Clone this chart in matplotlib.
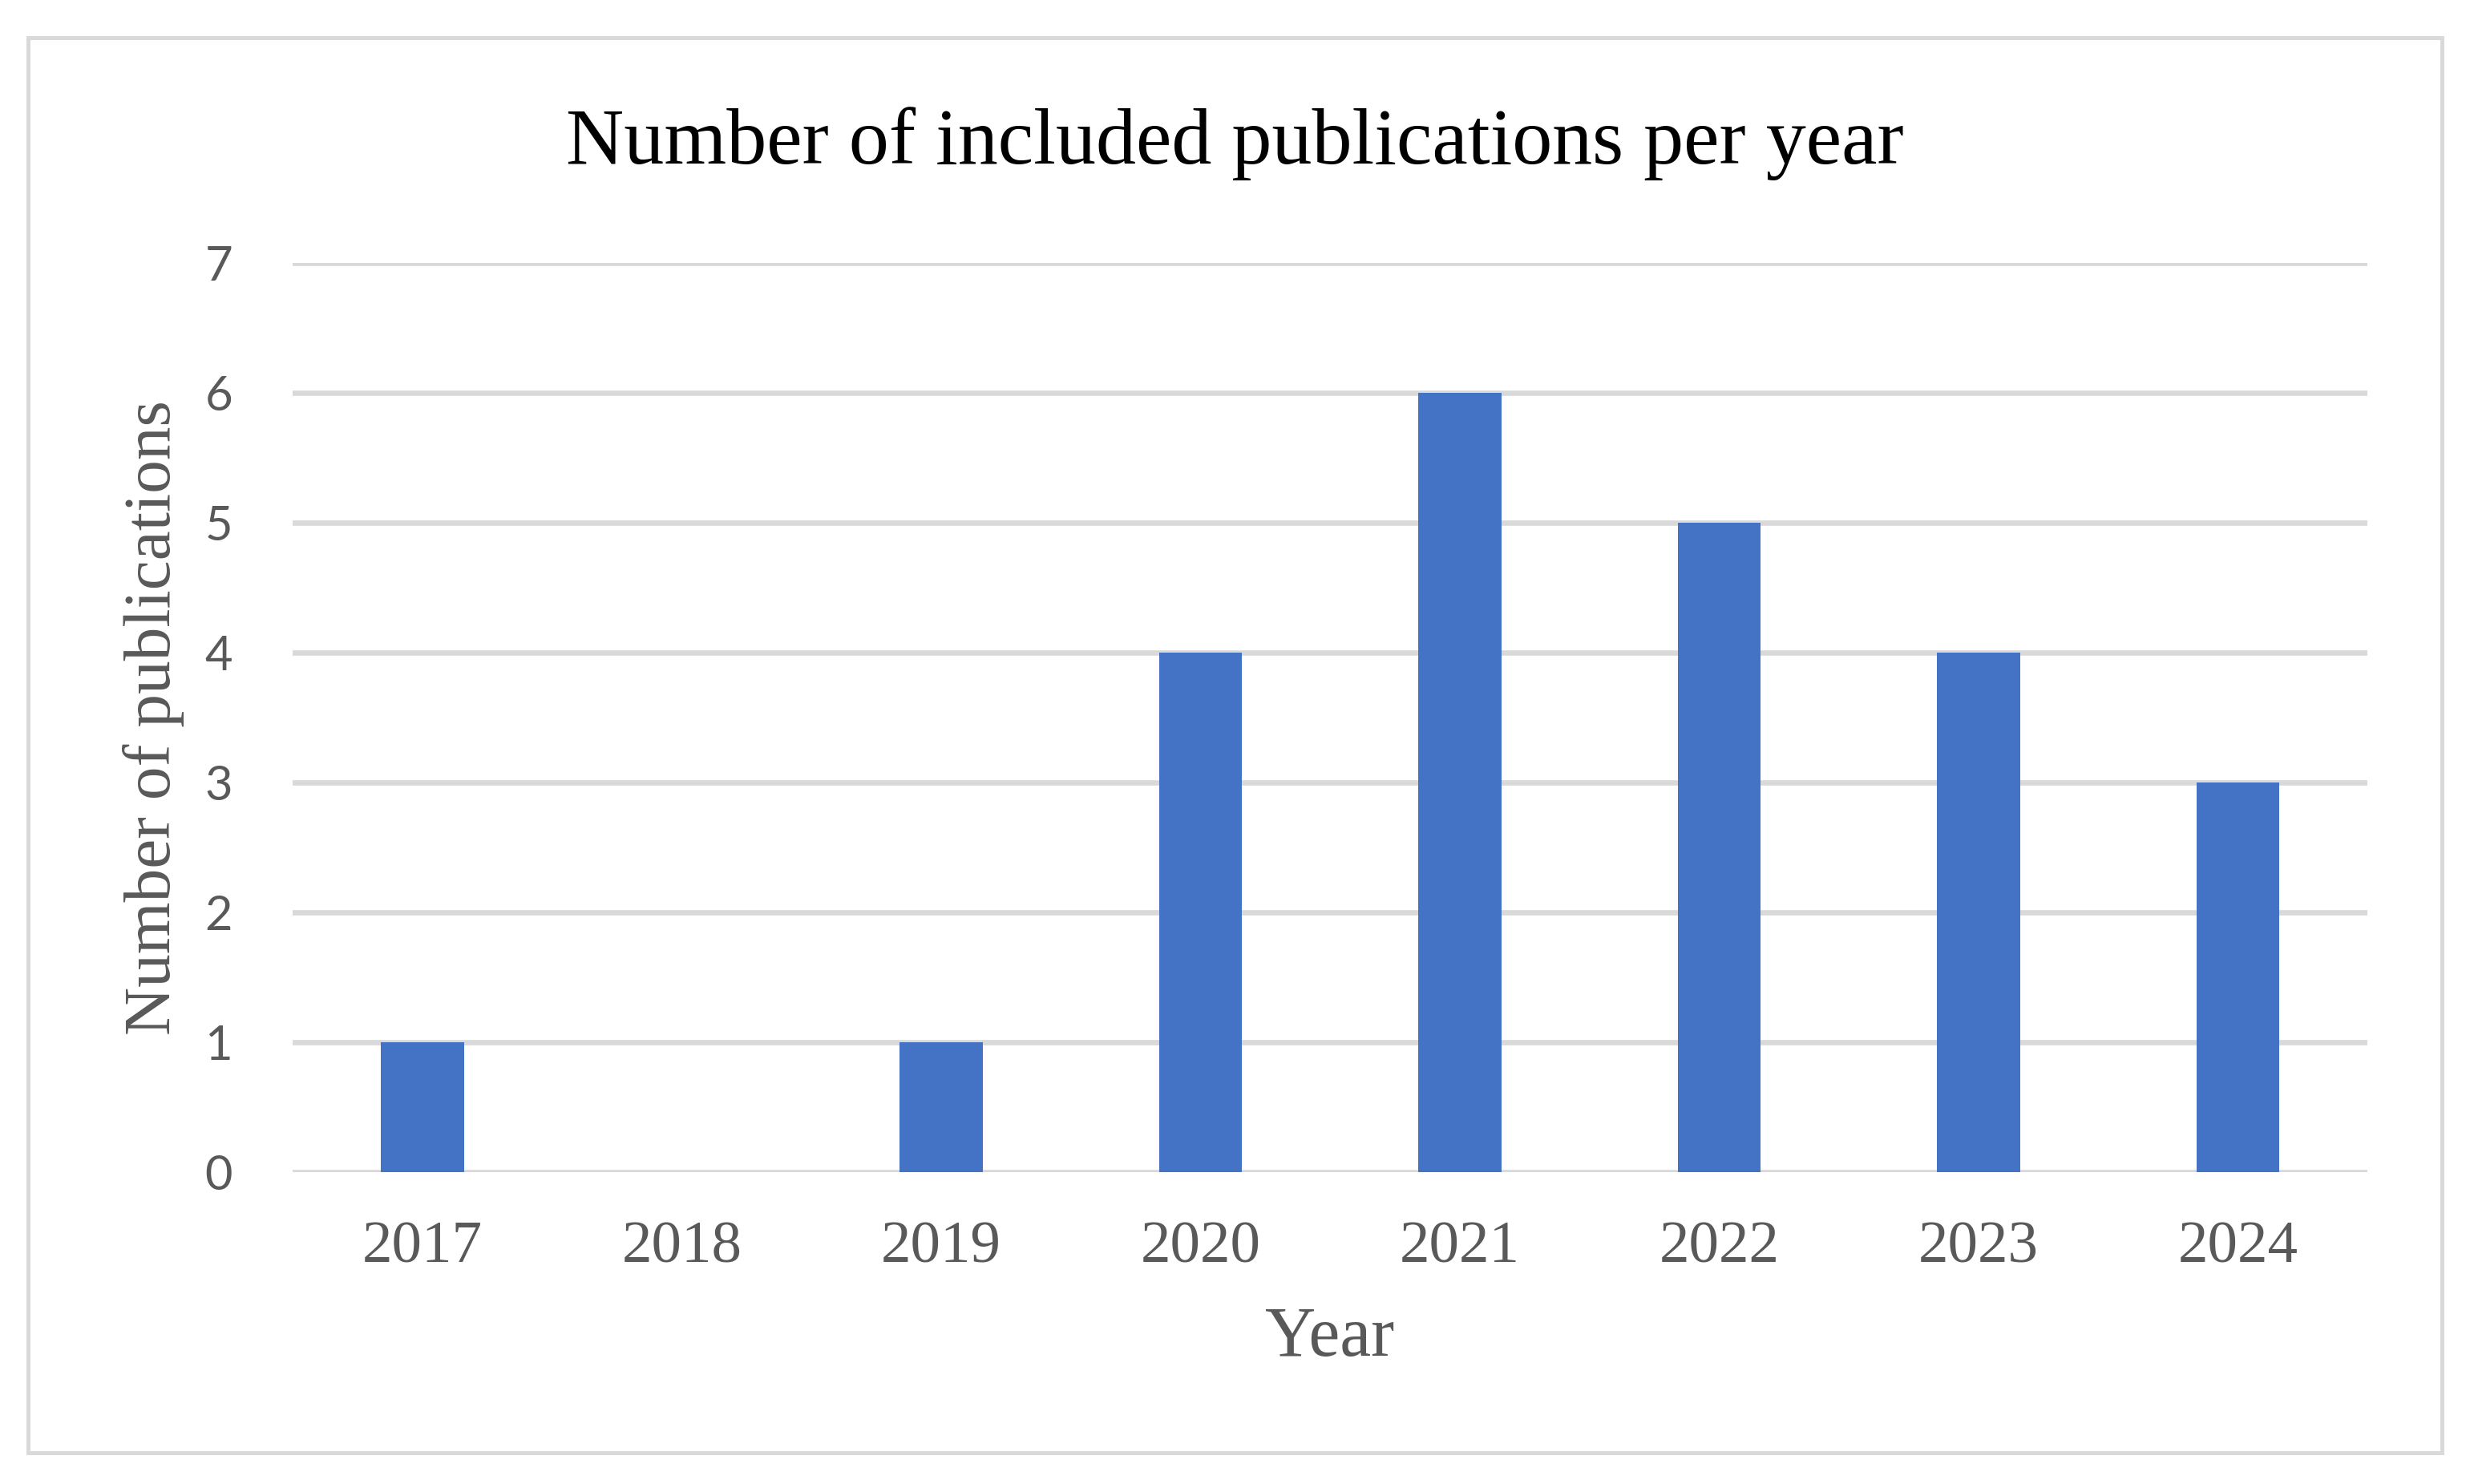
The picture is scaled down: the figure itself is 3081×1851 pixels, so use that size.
import matplotlib.pyplot as plt
from matplotlib.patches import Rectangle

years = ['2017', '2018', '2019', '2020', '2021', '2022', '2023', '2024']
counts = [1, 0, 1, 4, 6, 5, 4, 3]
y_ticks = [0, 1, 2, 3, 4, 5, 6, 7]

fig = plt.figure(figsize=(30.81, 18.51), dpi=100)
ax = fig.add_axes([0.1185, 0.2102, 0.84, 0.6126])

# outer chart border
fig.patches.append(Rectangle((0.0114, 0.021), 0.9772, 0.9536, transform=fig.transFigure,
                             fill=False, edgecolor='#D9D9D9', linewidth=3.6))

ax.bar(range(len(years)), counts, width=0.32, color='#4472C4', zorder=3)
ax.set_xlim(-0.5, len(years) - 0.5)
ax.set_ylim(0, 7)
ax.set_yticks(y_ticks)
ax.set_xticks(range(len(years)))
ax.set_xticklabels(years, family='Liberation Serif', fontsize=54, color='#595959')
ax.set_yticklabels([str(v) for v in y_ticks], family='Lato', fontsize=43, color='#595959')
ax.tick_params(axis='x', length=0, pad=44)
ax.tick_params(axis='y', length=0, pad=54)
ax.grid(axis='y', color='#D9D9D9', linewidth=4.8, zorder=0)
ax.set_axisbelow(True)
for s in ax.spines.values():
    s.set_visible(False)

ax.set_xlabel('Year', family='Liberation Serif', fontsize=63, color='#595959', labelpad=28)
ax.set_ylabel('Number of publications', family='Liberation Serif', fontsize=60,
              color='#595959', labelpad=18)
fig.text(0.5, 0.9035, 'Number of included publications per year', family='Liberation Serif',
         fontsize=72, color='black', ha='center', va='center')

fig.savefig('out.png', dpi=100)
